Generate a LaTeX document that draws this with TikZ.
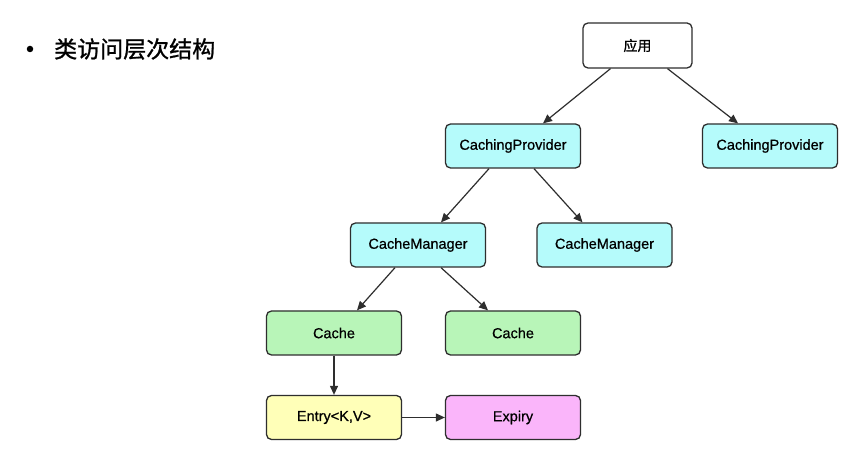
\documentclass[tikz,border=0pt]{standalone}
\usepackage{fontspec}
\setmainfont{Liberation Sans}
\newfontfamily\boxfont{Liberation Sans}[FakeBold=0.7]
\newfontfamily\cjkb{Noto Sans CJK SC}[FakeBold=1]
\usetikzlibrary{arrows.meta}
\definecolor{cyanfill}{HTML}{B5FBFB}
\definecolor{greenfill}{HTML}{B8F5B8}
\definecolor{yellowfill}{HTML}{FFFFB8}
\definecolor{pinkfill}{HTML}{FAB5FA}
\definecolor{edge}{HTML}{2E2E2E}
\tikzset{
  box/.style={draw=edge, line width=1.3pt, rounded corners=5pt, minimum width=135pt, minimum height=44pt, inner sep=0pt, font=\boxfont\fontsize{14.5}{16}\selectfont},
  conn/.style={draw=edge, line width=1.2pt, -{Triangle[length=9pt,width=8pt]}}
}
\begin{document}
\begin{tikzpicture}[x=1pt,y=-1pt]
\useasboundingbox (0,0) rectangle (863,449);
\fill[white] (0,0) rectangle (863,449);
% title
\node[circle, fill=black, inner sep=0pt, minimum size=6.5pt] (bul) at (30,49) {};
\node[anchor=west, inner sep=0pt, font=\cjkb\fontsize{23}{25}\selectfont] (title) at (54,49) {类访问层次结构};
% boxes
\node[box, fill=white, minimum width=109pt, minimum height=45pt, font=\cjkb\fontsize{14}{16}\selectfont] (app) at (637.5,45.5) {应用};
\node[box, fill=cyanfill] (cp1) at (513,146) {CachingProvider};
\node[box, fill=cyanfill] (cp2) at (770,146) {CachingProvider};
\node[box, fill=cyanfill] (cm1) at (418,245) {CacheManager};
\node[box, fill=cyanfill] (cm2) at (604.5,245) {CacheManager};
\node[box, fill=greenfill] (c1) at (334,333) {Cache};
\node[box, fill=greenfill] (c2) at (513,333) {Cache};
\node[box, fill=yellowfill] (en) at (334,417.5) {Entry<K,V>};
\node[box, fill=pinkfill] (ex) at (513,417.5) {Expiry};
% connectors
\draw[conn] ([xshift=-27pt]app.south) -- ([xshift=30pt]cp1.north);
\draw[conn] ([xshift=30pt]app.south) -- ([xshift=-32pt]cp2.north);
\draw[conn] ([xshift=-24pt]cp1.south) -- ([xshift=23pt]cm1.north);
\draw[conn] ([xshift=21pt]cp1.south) -- ([xshift=-22pt]cm2.north);
\draw[conn] ([xshift=-23pt]cm1.south) -- ([xshift=23pt]c1.north);
\draw[conn] ([xshift=23pt]cm1.south) -- ([xshift=-25pt]c2.north);
\draw[conn] (c1.south) -- (en.north);
\draw[conn] (en.east) -- (ex.west);
\end{tikzpicture}
\end{document}
